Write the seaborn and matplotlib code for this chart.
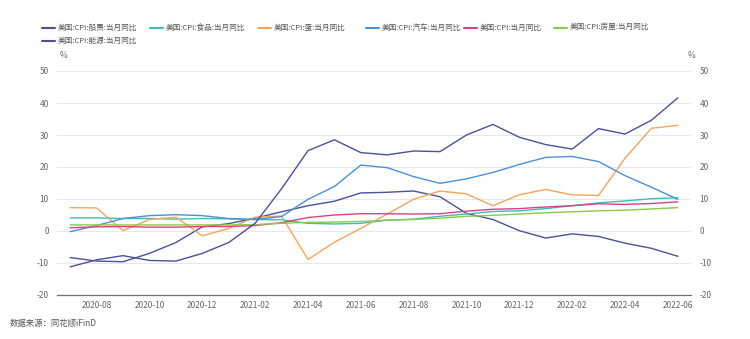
import matplotlib
matplotlib.use("Agg")
import matplotlib.pyplot as plt
from matplotlib.lines import Line2D
import seaborn as sns
import pandas as pd
import numpy as np

sns.set_theme(style="white")
plt.rcParams['font.family'] = ['Noto Sans CJK SC', 'DejaVu Sans']
plt.rcParams['axes.unicode_minus'] = False

months = ["2020-07", "2020-08", "2020-09", "2020-10", "2020-11", "2020-12",
          "2021-01", "2021-02", "2021-03", "2021-04", "2021-05", "2021-06",
          "2021-07", "2021-08", "2021-09", "2021-10", "2021-11", "2021-12",
          "2022-01", "2022-02", "2022-03", "2022-04", "2022-05", "2022-06"]

fare = [-8.3, -9.4, -9.6, -7.0, -3.6, 1.3, 2.3, 4.0, 6.0, 7.9, 9.3, 11.9,
        12.1, 12.5, 10.7, 5.5, 3.6, 0.1, -2.2, -0.9, -1.7, -3.8, -5.4, -7.9]
food = [4.1, 4.1, 3.9, 3.9, 3.7, 3.9, 3.8, 3.6, 3.5, 2.4, 2.2, 2.4,
        3.4, 3.7, 4.6, 5.3, 6.1, 6.3, 7.0, 7.9, 8.8, 9.4, 10.1, 10.4]
eggs = [7.3, 7.2, 0.1, 3.6, 4.3, -1.5, 0.8, 4.3, 4.7, -8.9, -3.5, 0.8,
        5.3, 9.9, 12.5, 11.6, 7.9, 11.3, 13.0, 11.3, 11.1, 22.7, 32.1, 33.0]
autos = [-0.2, 1.7, 3.9, 4.8, 5.1, 4.8, 3.9, 3.6, 4.5, 9.9, 13.9, 20.6,
         19.8, 17.0, 14.9, 16.3, 18.3, 20.8, 23.0, 23.3, 21.7, 17.3, 13.7, 9.9]
cpi = [1.0, 1.3, 1.4, 1.2, 1.2, 1.4, 1.4, 1.7, 2.6, 4.2, 5.0, 5.4,
       5.4, 5.3, 5.4, 6.2, 6.8, 7.0, 7.5, 7.9, 8.5, 8.3, 8.6, 9.1]
shelter = [1.9, 1.9, 1.9, 1.9, 1.9, 1.9, 1.9, 2.0, 2.4, 2.7, 2.8, 3.0,
           3.4, 3.6, 4.0, 4.6, 4.9, 5.3, 5.7, 6.0, 6.3, 6.5, 6.9, 7.3]
energy = [-11.2, -9.0, -7.7, -9.2, -9.4, -7.0, -3.6, 2.4, 13.2, 25.1, 28.5, 24.5,
          23.8, 25.0, 24.8, 30.0, 33.3, 29.3, 27.0, 25.6, 32.0, 30.3, 34.6, 41.6]

names = ["美国:CPI:船费:当月同比", "美国:CPI:食品:当月同比", "美国:CPI:蛋:当月同比",
         "美国:CPI:汽车:当月同比", "美国:CPI:当月同比", "美国:CPI:房屋:当月同比",
         "美国:CPI:能源:当月同比"]
series = [fare, food, eggs, autos, cpi, shelter, energy]
colors = ["#4a5199", "#36c1b1", "#f5a55b", "#4a90d9", "#d9408a", "#8cc84b", "#4a5199"]

rows = []
for n, s in zip(names, series):
    for i, (m, v) in enumerate(zip(months, s)):
        rows.append({"idx": i, "month": m, "value": v, "series": n})
df = pd.DataFrame(rows)

fig = plt.figure(figsize=(7.5, 3.39), dpi=100)
ax = fig.add_axes([57/750, 1-295/339, (691-57)/750, (295-71)/339])

sns.lineplot(data=df, x="idx", y="value", hue="series", hue_order=names,
             palette=dict(zip(names, colors)), linewidth=1.0, legend=False, ax=ax)

ax.set_xlim(-0.5, len(months) - 0.5)
ax.set_ylim(-20, 50)
ax.set_yticks(np.arange(-20, 51, 10))
ax.set_xticks(range(1, len(months), 2))
ax.set_xticklabels(months[1::2])
ax.set_xlabel("")
ax.set_ylabel("")
ax.grid(axis="y", color="#e6e8ef", linewidth=0.8)
ax.grid(axis="x", visible=False)
for sp in ["top", "left", "right"]:
    ax.spines[sp].set_visible(False)
ax.spines["bottom"].set_color("#6e7079")
ax.spines["bottom"].set_linewidth(0.9)
ax.tick_params(axis="y", length=0, labelsize=6, labelcolor="#666666", pad=6,
               labelright=True)
ax.tick_params(axis="x", length=0, labelsize=6, labelcolor="#666666", pad=4)

fig.text(60/750, 1-56/339, "%", fontsize=6, color="#666666", va="center", ha="left")
fig.text(688/750, 1-56/339, "%", fontsize=6, color="#666666", va="center", ha="left")

# legend entries
pos = [(42, 28), (150, 28), (258, 28), (366, 28), (464, 28), (554, 28), (42, 41)]
for (px, py), n, c in zip(pos, names, colors):
    y = 1 - py/339
    fig.add_artist(Line2D([px/750, (px+13)/750], [y, y], color=c, linewidth=1.5,
                          transform=fig.transFigure))
    fig.text((px+16)/750, y, n, fontsize=5.5, color="#555555", va="center", ha="left")

fig.text(10/750, 1-323/339, "数据来源：同花顺iFinD", fontsize=6, color="#555555",
         va="center", ha="left")

fig.savefig("out.png", dpi=100)
